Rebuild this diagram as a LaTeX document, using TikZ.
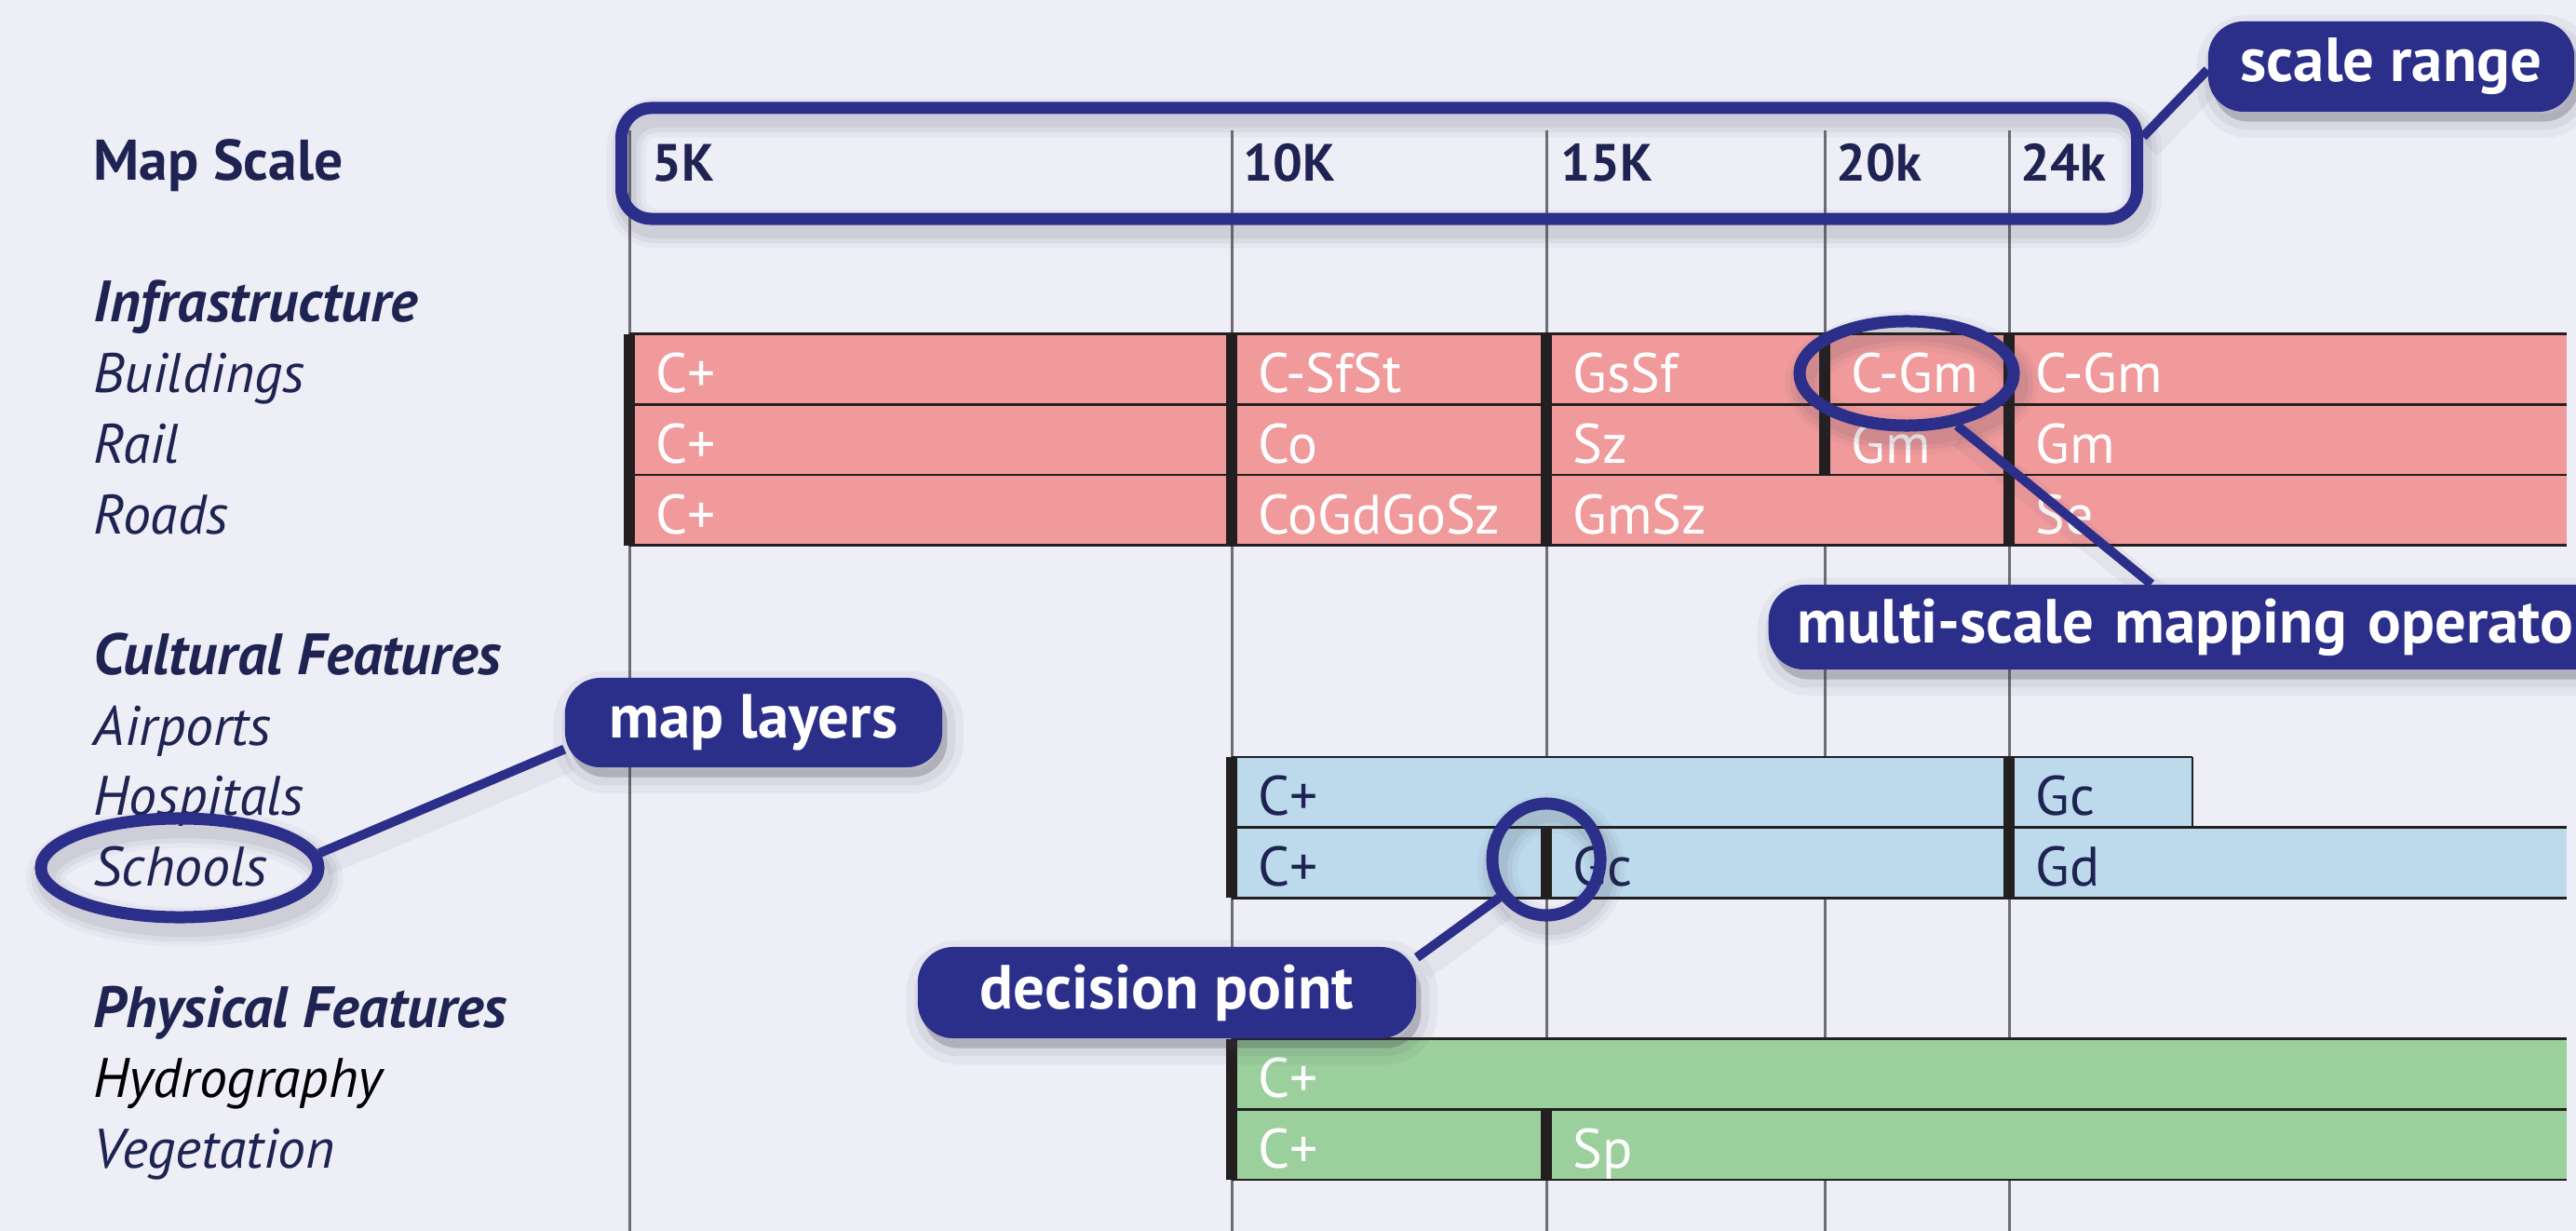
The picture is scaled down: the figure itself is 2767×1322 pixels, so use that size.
\documentclass[tikz,border=0pt]{standalone}
\usepackage{fontspec}
\setmainfont{PT Sans}
\usetikzlibrary{shapes.geometric}

\definecolor{paper}{HTML}{EDEEF6}
\definecolor{ink}{HTML}{1E2352}
\definecolor{callout}{HTML}{2B2F8A}
\definecolor{infra}{HTML}{F09A9C}
\definecolor{cult}{HTML}{BDD9EC}
\definecolor{phys}{HTML}{9BCF9C}
\definecolor{edge}{HTML}{231F20}
\definecolor{gridgray}{HTML}{6D6E71}
\definecolor{shade}{HTML}{3A3A4A}

\tikzset{
  gridline/.style={gridgray, line width=0.85pt},
  cellline/.style={edge, line width=0.77pt},
  celledge/.style={edge, line width=3.4pt},
  celltext/.style={anchor=base west, inner sep=0pt, font=\fontsize{17}{20}\selectfont},
  scalelbl/.style={anchor=base west, inner sep=0pt, text=ink, font=\fontsize{16}{19}\selectfont\bfseries},
  heading/.style={anchor=base west, inner sep=0pt, text=ink, font=\fontsize{17.8}{21}\selectfont\bfseries\itshape},
  layername/.style={anchor=base west, inner sep=0pt, text=ink, font=\fontsize{17}{20}\selectfont\itshape},
  % soft shadow under strokes
  haze/.style={
    preaction={draw=shade, fill=none, draw opacity=0.04, line width=12pt, transform canvas={xshift=1.5pt, yshift=-3pt}},
    preaction={draw=shade, fill=none, draw opacity=0.06, line width=9pt, transform canvas={xshift=1.5pt, yshift=-3pt}},
    preaction={draw=shade, fill=none, draw opacity=0.08, line width=6pt, transform canvas={xshift=1.5pt, yshift=-3pt}}},
  % soft shadow under filled boxes
  hazefill/.style={
    preaction={fill=shade, draw=none, fill opacity=0.25, transform canvas={xshift=1.5pt, yshift=-3pt}},
    preaction={draw=shade, fill=none, draw opacity=0.05, line width=10pt, transform canvas={xshift=1.5pt, yshift=-3pt}},
    preaction={draw=shade, fill=none, draw opacity=0.07, line width=5pt, transform canvas={xshift=1.5pt, yshift=-3pt}}},
  ring/.style={ellipse, draw=callout, line width=3.7pt, inner sep=0pt, haze},
  rangebox/.style={rectangle, rounded corners=0.32cm, draw=callout, line width=3.7pt, inner sep=0pt, haze},
  bubble/.style={rectangle, rounded corners=0.38cm, fill=callout, text=white, inner sep=0pt,
    font=\fontsize{19}{22}\selectfont\bfseries, hazefill},
  link/.style={draw=callout, line width=2.85pt,
    preaction={draw=shade, draw opacity=0.06, line width=8pt, transform canvas={xshift=1.5pt, yshift=-3pt}}},
}

% one coloured cell of a layer row: left, right, row, fill, text colour, label
\newcommand{\layercell}[6]{%
  \fill[#4] (#1,{283+75.7*#3}) rectangle (#2,{358.7+75.7*#3});
  \draw[cellline] (#1,{283+75.7*#3}) -- (#2,{283+75.7*#3})
                  (#1,{358.7+75.7*#3}) -- (#2,{358.7+75.7*#3});
  \draw[celledge] (#1,{283+75.7*#3}) -- (#1,{358.7+75.7*#3});
  \node[celltext, text=#5] (cell-#3-#1) at ({#1+28},{346+75.7*#3}) {#6};
}

\begin{document}
\begin{tikzpicture}[x=0.01cm, y=-0.01cm]
    \useasboundingbox (0,0) rectangle (2767,1322);
    \clip (0,0) rectangle (2767,1322);
    \fill[paper] (0,0) rectangle (2767,1322);

    % Draw the scale grid lines
    \foreach \x in {676,1323,1661,1960,2158}
        \draw[gridline] (\x,140) -- (\x,1322);

    % Infrastructure rows
    \layercell{676}{1323}{1}{infra}{white}{C+}
    \layercell{1323}{1661}{1}{infra}{white}{C-SfSt}
    \layercell{1661}{1960}{1}{infra}{white}{GsSf}
    \layercell{1960}{2158}{1}{infra}{white}{C-Gm}
    \layercell{2158}{2757}{1}{infra}{white}{C-Gm}
    \layercell{676}{1323}{2}{infra}{white}{C+}
    \layercell{1323}{1661}{2}{infra}{white}{Co}
    \layercell{1661}{1960}{2}{infra}{white}{Sz}
    \layercell{1960}{2158}{2}{infra}{white}{Gm}
    \layercell{2158}{2757}{2}{infra}{white}{Gm}
    \layercell{676}{1323}{3}{infra}{white}{C+}
    \layercell{1323}{1661}{3}{infra}{white}{CoGdGoSz}
    \layercell{1661}{2158}{3}{infra}{white}{GmSz}
    \layercell{2158}{2757}{3}{infra}{white}{Se}

    % Cultural feature rows
    \layercell{1323}{2158}{7}{cult}{ink}{C+}
    \layercell{2158}{2355}{7}{cult}{ink}{Gc}
    \draw[cellline] (2355,{283+75.7*7}) -- (2355,{358.7+75.7*7});
    \layercell{1323}{1661}{8}{cult}{ink}{C+}
    \layercell{1661}{2158}{8}{cult}{ink}{Gc}
    \layercell{2158}{2757}{8}{cult}{ink}{Gd}

    % Physical feature rows
    \layercell{1323}{2757}{11}{phys}{white}{C+}
    \layercell{1323}{1661}{12}{phys}{white}{C+}
    \layercell{1661}{2757}{12}{phys}{white}{Sp}

    % Scale labels
    \node[scalelbl] (s5) at (700,195) {5K};
    \node[scalelbl] (s10) at (1335,195) {10K};
    \node[scalelbl] (s15) at (1676,195) {15K};
    \node[scalelbl] (s20) at (1972,195) {20k};
    \node[scalelbl] (s24) at (2170,195) {24k};

    % Left column: groups and layers
    \node[heading, font=\fontsize{17.5}{21}\selectfont\bfseries] (mapscale) at (100,194) {Map Scale};
    \node[heading] (infrahead) at (100,346) {Infrastructure};
    \node[heading] (culthead) at (100,{346+75.7*5}) {Cultural Features};
    \node[heading] (physhead) at (100,{346+75.7*10}) {Physical Features};
    \foreach \r/\name in {1/Buildings,2/Rail,3/Roads,6/Airports,7/Hospitals,8/Schools,12/Vegetation}
        \node[layername] (layer-\r) at (100,{346+75.7*\r}) {\name};
    \node[layername, text=black] (layer-11) at (100,{346+75.7*11}) {Hydrography};

    % Rings around the marked parts
    \node[rangebox, minimum width=16.27cm, minimum height=1.19cm] (rng) at (1481.5,175.5) {};
    \node[ring, minimum width=2.30cm, minimum height=1.12cm] (cgm) at (2048,401) {};
    \node[ring, minimum width=1.16cm, minimum height=1.20cm] (dec) at (1661,923) {};
    \node[ring, minimum width=2.98cm, minimum height=1.06cm] (sch) at (193,932) {};

    % Callout boxes
    \node[bubble, minimum width=3.93cm, minimum height=0.97cm] (scl) at (2568.5,71.5) {scale range};
    \node[bubble, minimum width=4.05cm, minimum height=0.96cm] (lay) at (809.5,776) {map layers};
    \node[bubble, minimum width=5.35cm, minimum height=0.98cm] (dp) at (1253.5,1066) {decision point};
    \node[bubble, anchor=west, text width=9.2cm, align=left, inner xsep=0.31cm, minimum height=0.91cm]
        (mso) at (1899,673.5) {multi-scale mapping operator};

    % Connectors
    \draw[link] (rng.2.6) -- (scl.181.6);
    \draw[link] (sch.6) -- (lay.188);
    \draw[link] (dec.219) -- (dp.8);
    \draw[link] (cgm.-46) -- (mso.150);

\end{tikzpicture}
\end{document}
